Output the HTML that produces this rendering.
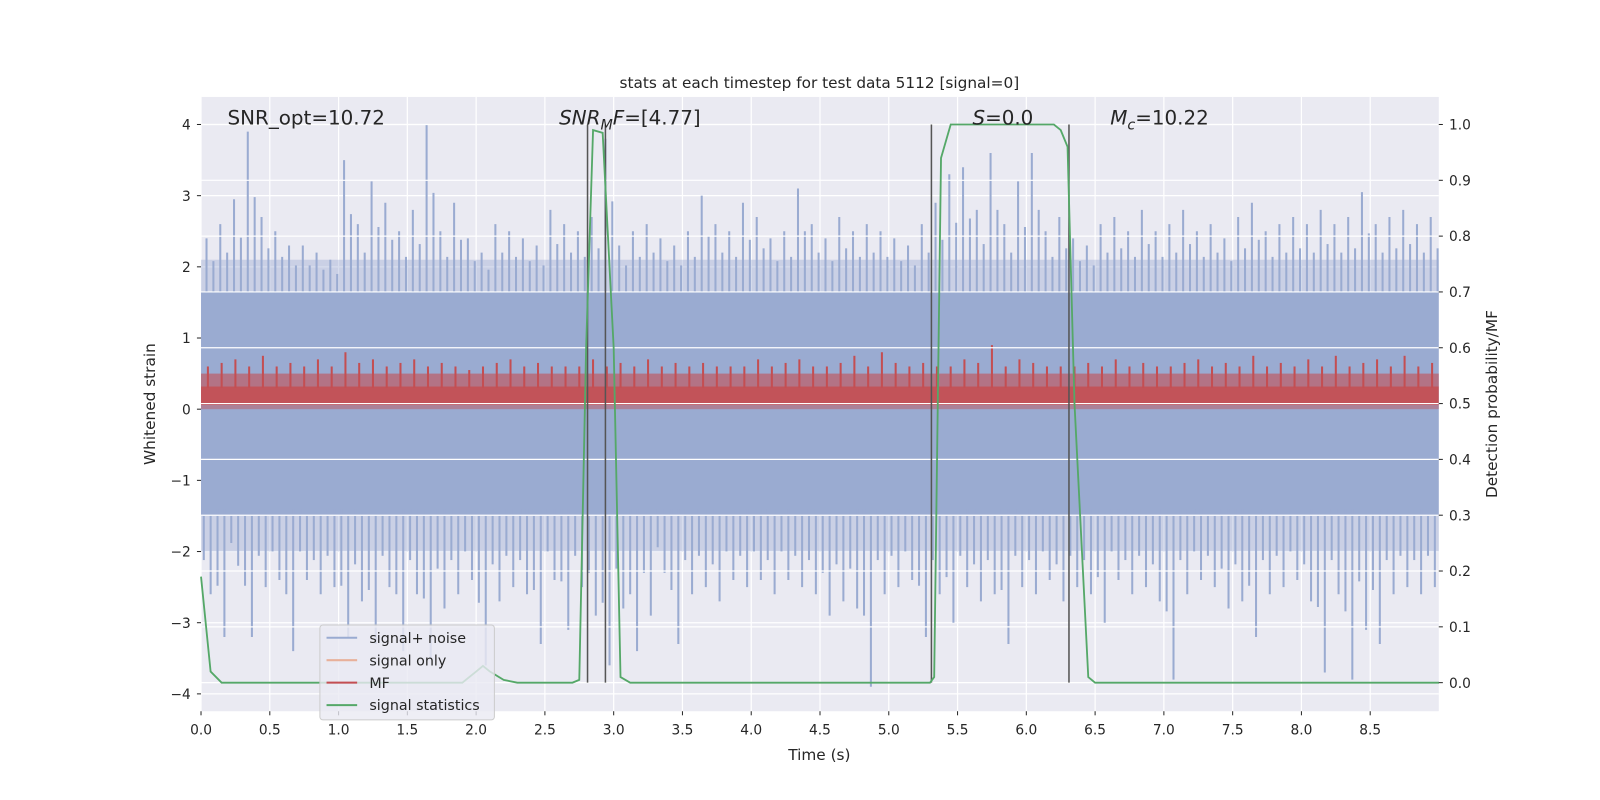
<!DOCTYPE html>
<html><head><meta charset="utf-8">
<style>
html,body{margin:0;padding:0;background:#fff;overflow:hidden;width:1600px;height:800px;}
svg{display:block;font-family:"DejaVu Sans","Liberation Sans",sans-serif;}
</style></head>
<body>
<svg id="chart" width="1600" height="800" viewBox="0 0 1568 784">
<g id="plot"></g>
<text x="803" y="86" font-size="15" text-anchor="middle" fill="#262626">stats at each timestep for test data 5112 [signal=0]</text>
<text x="803" y="745" font-size="15" text-anchor="middle" fill="#262626">Time (s)</text>
<text transform="translate(152,396) rotate(-90)" font-size="15" text-anchor="middle" fill="#262626">Whitened strain</text>
<text transform="translate(1467,396) rotate(-90)" font-size="15" text-anchor="middle" fill="#262626">Detection probability/MF</text>
<text x="223" y="122" font-size="19.5" fill="#262626">SNR_opt=10.72</text>
<text x="548" y="122" font-size="19.5" fill="#262626"><tspan font-style="italic">SNR</tspan><tspan font-style="italic" font-size="14" dy="5">M</tspan><tspan font-style="italic" dy="-5">F</tspan>=[4.77]</text>
<text x="953" y="122" font-size="19.5" fill="#262626"><tspan font-style="italic">S</tspan>=0.0</text>
<text x="1088" y="122" font-size="19.5" fill="#262626"><tspan font-style="italic">M</tspan><tspan font-style="italic" font-size="14" dy="5">c</tspan><tspan dy="-5">=10.22</tspan></text>
<g>
  <rect x="313.5" y="612.5" width="171" height="93" rx="3" fill="#eaeaf2" fill-opacity="0.8" stroke="#cccccc"/>
  <line x1="320" x2="350" y1="625" y2="625" stroke="#9aabd1" stroke-width="2"/>
  <text x="362" y="630" font-size="14" fill="#262626">signal+ noise</text>
  <line x1="320" x2="350" y1="647" y2="647" stroke="#e8b09a" stroke-width="2"/>
  <text x="362" y="652" font-size="14" fill="#262626">signal only</text>
  <line x1="320" x2="350" y1="669" y2="669" stroke="#c44e52" stroke-width="2"/>
  <text x="362" y="674" font-size="14" fill="#262626">MF</text>
  <line x1="320" x2="350" y1="691" y2="691" stroke="#55a868" stroke-width="2"/>
  <text x="362" y="696" font-size="14" fill="#262626">signal statistics</text>
</g>
</svg>
<script>
// ---- data ----
const binStart = 0.0, binWidth = 0.1;
const noiseUpper = [2.4,2.6,2.95,3.9,2.7,2.5,2.3,2.3,2.2,2.1, 3.5,2.6,3.2,2.9,2.5,2.8,4.0,2.5,2.9,2.4,
  2.2,2.6,2.5,2.4,2.3,2.8,2.6,2.5,2.7,3.8, 2.3,2.5,2.6,2.4,2.3,2.5,3.0,2.6,2.5,2.9,
  2.7,2.4,2.5,3.1,2.6,2.4,2.7,2.5,2.6,2.5, 2.4,2.3,2.6,2.9,3.3,3.4,2.8,3.6,2.6,3.2,
  3.6,2.5,2.7,2.4,2.3,2.6,2.7,2.5,2.8,2.5, 2.6,2.8,2.5,2.6,2.4,2.7,2.9,2.5,2.6,2.7,
  2.6,2.8,2.6,2.7,3.05,2.6,2.7,2.8,2.6,2.7];
const noiseLower = [-2.6,-3.2,-2.2,-3.2,-2.5,-2.4,-3.4,-2.4,-2.6,-2.5, -3.2,-2.7,-3.3,-2.5,-3.4,-2.6,-3.5,-2.8,-2.6,-2.4,
  -3.6,-2.7,-2.5,-2.6,-3.3,-2.4,-3.1,-2.5,-2.9,-3.6, -2.8,-3.4,-2.9,-2.3,-3.3,-2.6,-2.5,-2.7,-2.4,-2.5,
  -2.4,-2.6,-2.4,-2.5,-2.6,-2.9,-2.7,-2.8,-3.9,-2.6, -2.5,-2.4,-3.2,-2.6,-3.0,-2.5,-2.7,-2.6,-3.3,-2.5,
  -2.6,-2.4,-2.7,-2.5,-2.6,-3.0,-2.4,-2.6,-2.5,-2.7, -3.8,-2.6,-2.4,-2.5,-2.8,-2.7,-3.2,-2.6,-2.5,-2.4,
  -2.7,-3.7,-2.6,-3.8,-3.1,-3.3,-2.6,-2.5,-2.6,-2.5];
const mfPeaks = [0.6,0.65,0.7,0.6,0.75,0.6,0.65,0.6,0.7,0.6, 0.8,0.65,0.7,0.6,0.65,0.7,0.6,0.65,0.6,0.55,
  0.6,0.65,0.7,0.6,0.65,0.6,0.6,0.6,0.7,0.6, 0.65,0.6,0.7,0.6,0.65,0.6,0.65,0.6,0.6,0.6,
  0.7,0.6,0.65,0.7,0.6,0.6,0.65,0.75,0.6,0.8, 0.65,0.6,0.65,0.6,0.6,0.7,0.65,0.9,0.6,0.7,
  0.65,0.6,0.6,0.6,0.65,0.6,0.7,0.6,0.65,0.6, 0.6,0.65,0.7,0.6,0.65,0.6,0.75,0.6,0.65,0.6,
  0.7,0.6,0.75,0.6,0.65,0.7,0.6,0.75,0.6,0.65];
const statTimes = [0,0.07,0.15,0.3,1.9,1.95,2.0,2.05,2.1,2.2,2.3,2.7,2.75,2.8,2.85,2.92,3.0,3.05,3.12,5.3,5.33,5.38,5.45,6.2,6.25,6.3,6.35,6.45,6.5,9.0];
const statValues = [0.19,0.02,0.0,0.0,0.0,0.01,0.02,0.03,0.02,0.005,0.0,0.0,0.005,0.6,0.99,0.985,0.6,0.01,0.0,0.0,0.01,0.94,1.0,1.0,0.99,0.96,0.5,0.01,0.0,0.0];
const markerTimes = [2.81,2.94,5.31,6.31];
const xTicks = [0,0.5,1,1.5,2,2.5,3,3.5,4,4.5,5,5.5,6,6.5,7,7.5,8,8.5];
const xTickLabels = ["0.0","0.5","1.0","1.5","2.0","2.5","3.0","3.5","4.0","4.5","5.0","5.5","6.0","6.5","7.0","7.5","8.0","8.5"];
const yTicks = [-4,-3,-2,-1,0,1,2,3,4];
const yTickLabels = ["\u22124","\u22123","\u22122","\u22121","0","1","2","3","4"];
const y2Ticks = [0,0.1,0.2,0.3,0.4,0.5,0.6,0.7,0.8,0.9,1.0];
const y2TickLabels = ["0.0","0.1","0.2","0.3","0.4","0.5","0.6","0.7","0.8","0.9","1.0"];

// ---- axes ----
const L=197,R=1410,T=95,B=697;
const X = t => 197 + t*134.8;
const Y = v => 401 - v*69.75;
const Y2 = p => 669 - p*547;
const NS="http://www.w3.org/2000/svg";
const root=document.getElementById('plot');
function mk(tag,attrs,parent){const e=document.createElementNS(NS,tag);for(const k in attrs)e.setAttribute(k,attrs[k]);(parent||root).appendChild(e);return e;}

const bg=mk('rect',{x:L,y:T,width:R-L,height:B-T,fill:'#eaeaf2'});



xTicks.forEach(t=>{const g=mk('line',{x1:X(t),x2:X(t),y1:T,y2:B,stroke:'#fff','stroke-width':1.2});

});
yTicks.forEach(v=>{const g=mk('line',{x1:L,x2:R,y1:Y(v),y2:Y(v),stroke:'#fff','stroke-width':1.2});

});

const noiseG=mk('g',{});


mk('rect',{x:L,y:Y(1.65),width:R-L,height:Y(-1.5)-Y(1.65),fill:'#9aabd1'},noiseG);
mk('rect',{x:L,y:Y(2.1),width:R-L,height:Y(1.65)-Y(2.1),fill:'#9aabd1',opacity:0.4},noiseG);
mk('rect',{x:L,y:Y(-1.5),width:R-L,height:Y(-2.0)-Y(-1.5),fill:'#9aabd1',opacity:0.4},noiseG);
noiseUpper.forEach((v,i)=>{
  const t=binStart+i*binWidth+binWidth*0.4;
  const s=mk('line',{x1:X(t),x2:X(t),y1:Y(1.6),y2:Y(v),stroke:'#9aabd1','stroke-width':2},noiseG);
  
  
  const s2=mk('line',{x1:X(t+0.05),x2:X(t+0.05),y1:Y(1.6),y2:Y(1.6+(v-1.6)*0.6),stroke:'#9aabd1','stroke-width':2},noiseG);
  
  
});
noiseLower.forEach((v,i)=>{
  const t=binStart+i*binWidth+binWidth*0.7;
  const s=mk('line',{x1:X(t),x2:X(t),y1:Y(-1.4),y2:Y(v),stroke:'#9aabd1','stroke-width':2},noiseG);
  
  
  const s2=mk('line',{x1:X(t-0.05),x2:X(t-0.05),y1:Y(-1.4),y2:Y(-1.4+(v+1.4)*0.6),stroke:'#9aabd1','stroke-width':2},noiseG);
  
  
});

const mfG=mk('g',{});


mk('rect',{x:L,y:Y(0.32),width:R-L,height:Y(0.06)-Y(0.32),fill:'#c44e52',opacity:0.95},mfG);
mk('rect',{x:L,y:Y(0.5),width:R-L,height:Y(0.32)-Y(0.5),fill:'#c44e52',opacity:0.6},mfG);
mk('rect',{x:L,y:Y(0.06),width:R-L,height:Y(0.0)-Y(0.06),fill:'#c44e52',opacity:0.45},mfG);
mfPeaks.forEach((v,i)=>{
  const t=binStart+i*binWidth+binWidth*0.5;
  const s=mk('line',{x1:X(t),x2:X(t),y1:Y(0.3),y2:Y(v),stroke:'#c44e52','stroke-width':2},mfG);
  
  
});

y2Ticks.forEach(p=>{const g=mk('line',{x1:L,x2:R,y1:Y2(p),y2:Y2(p),stroke:'#fff','stroke-width':1.2});

});

markerTimes.forEach(t=>{const m=mk('line',{x1:X(t),x2:X(t),y1:Y2(1),y2:Y2(0),stroke:'#555','stroke-width':1.5});

});

const pts=statTimes.map((t,i)=>X(t).toFixed(1)+','+Y2(statValues[i]).toFixed(1)).join(' ');
const sl=mk('polyline',{points:pts,fill:'none',stroke:'#55a868','stroke-width':1.8});



xTicks.forEach((t,i)=>{
const k=mk('line',{x1:X(t),x2:X(t),y1:B,y2:B+4,stroke:'#262626','stroke-width':1});


const e=mk('text',{x:X(t),y:720,'font-size':13.5,fill:'#262626','text-anchor':'middle'});e.textContent=xTickLabels[i];

});
yTicks.forEach((v,i)=>{
const k=mk('line',{x1:L-4,x2:L,y1:Y(v),y2:Y(v),stroke:'#262626','stroke-width':1});


const e=mk('text',{x:187,y:Y(v)+5,'font-size':13.5,fill:'#262626','text-anchor':'end'});e.textContent=yTickLabels[i];

});
y2Ticks.forEach((p,i)=>{
const k=mk('line',{x1:R,x2:R+4,y1:Y2(p),y2:Y2(p),stroke:'#262626','stroke-width':1});


const e=mk('text',{x:1420,y:Y2(p)+5,'font-size':13.5,fill:'#262626'});e.textContent=y2TickLabels[i];

});
</script>
</body></html>
